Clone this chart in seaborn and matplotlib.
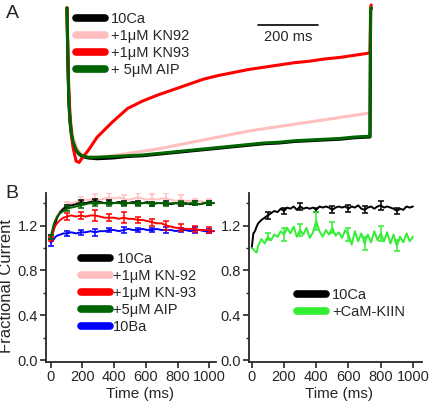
import matplotlib
matplotlib.use("Agg")
import matplotlib.pyplot as plt
from matplotlib import font_manager
import seaborn as sns

# --- Panel A: normalized current traces during a 1 s step ---
trace_t = [0, 3, 6, 10, 15, 20, 30, 40, 50, 70, 100, 150, 200, 250, 300, 350, 400,
           450, 500, 550, 600, 650, 700, 750, 800, 850, 900, 950, 1000, 1002, 1004]
trace_10ca = [0.0, -0.35, -0.62, -0.76, -0.85, -0.90, -0.95, -0.975, -0.99, -1.0, -1.005,
              -1.0, -0.99, -0.985, -0.975, -0.965, -0.955, -0.945, -0.935, -0.925, -0.915,
              -0.905, -0.90, -0.89, -0.885, -0.88, -0.875, -0.865, -0.86, -0.02, 0.0]
trace_kn92 = [0.0, -0.30, -0.55, -0.70, -0.80, -0.86, -0.92, -0.96, -0.98, -0.995, -0.995,
              -0.985, -0.97, -0.955, -0.94, -0.92, -0.90, -0.88, -0.86, -0.84, -0.82,
              -0.805, -0.79, -0.775, -0.76, -0.745, -0.73, -0.715, -0.70, -0.02, 0.0]
trace_kn93 = [0.0, -0.30, -0.55, -0.72, -0.85, -0.93, -1.02, -1.03, -1.0, -0.95, -0.86,
              -0.76, -0.67, -0.62, -0.58, -0.545, -0.51, -0.475, -0.45, -0.43, -0.41,
              -0.395, -0.38, -0.365, -0.355, -0.34, -0.33, -0.315, -0.30, 0.0, 0.02]
trace_aip = [0.0, -0.34, -0.61, -0.75, -0.84, -0.89, -0.945, -0.97, -0.985, -0.995, -0.995,
             -0.99, -0.985, -0.98, -0.97, -0.96, -0.95, -0.94, -0.93, -0.92, -0.91,
             -0.90, -0.895, -0.885, -0.88, -0.875, -0.87, -0.86, -0.855, -0.01, 0.0]

# --- Panel B left: fractional current vs time ---
time_b = [0, 10, 20, 30, 40, 60, 80, 100, 130, 160, 190, 220, 250, 280, 310, 340, 370, 400,
          430, 460, 490, 520, 550, 580, 610, 640, 670, 700, 730, 760, 790, 820, 850, 880,
          910, 940, 970, 1000, 1030]
frac_10ca = [1.10, 1.12, 1.17, 1.22, 1.27, 1.32, 1.35, 1.37, 1.38, 1.39, 1.41, 1.40, 1.41,
             1.42, 1.41, 1.40, 1.41, 1.40, 1.41, 1.40, 1.40, 1.41, 1.40, 1.40, 1.41, 1.39,
             1.40, 1.40, 1.40, 1.39, 1.40, 1.39, 1.40, 1.39, 1.40, 1.39, 1.40, 1.40, 1.40]
frac_kn92 = [1.08, 1.14, 1.20, 1.25, 1.29, 1.33, 1.36, 1.38, 1.40, 1.41, 1.42, 1.43, 1.43,
             1.44, 1.43, 1.44, 1.45, 1.44, 1.45, 1.44, 1.43, 1.44, 1.45, 1.44, 1.43, 1.44,
             1.43, 1.44, 1.44, 1.43, 1.42, 1.43, 1.42, 1.42, 1.41, 1.42, 1.41, 1.41, 1.40]
frac_kn93 = [1.08, 1.12, 1.17, 1.20, 1.22, 1.25, 1.27, 1.28, 1.29, 1.28, 1.29, 1.28, 1.29,
             1.29, 1.28, 1.27, 1.27, 1.27, 1.26, 1.27, 1.26, 1.26, 1.25, 1.25, 1.24, 1.23,
             1.22, 1.22, 1.20, 1.19, 1.18, 1.18, 1.17, 1.17, 1.17, 1.16, 1.16, 1.16, 1.15]
frac_aip = [1.10, 1.16, 1.22, 1.25, 1.28, 1.31, 1.33, 1.35, 1.36, 1.37, 1.38, 1.39, 1.40,
            1.39, 1.40, 1.40, 1.39, 1.40, 1.40, 1.39, 1.40, 1.40, 1.39, 1.40, 1.40, 1.39,
            1.40, 1.40, 1.39, 1.40, 1.40, 1.40, 1.39, 1.40, 1.40, 1.39, 1.40, 1.40, 1.40]
frac_10ba = [1.05, 1.06, 1.08, 1.10, 1.11, 1.12, 1.13, 1.13, 1.14, 1.13, 1.14, 1.14, 1.15,
             1.14, 1.15, 1.15, 1.16, 1.16, 1.15, 1.16, 1.17, 1.16, 1.16, 1.17, 1.16, 1.16,
             1.17, 1.16, 1.16, 1.16, 1.15, 1.16, 1.16, 1.15, 1.16, 1.16, 1.15, 1.15, 1.15]

err_time_b = [0, 100, 190, 280, 370, 460, 550, 640, 730, 820, 910, 1000]
err_10ca = [0.02, 0.015, 0.02, 0.02, 0.015, 0.02, 0.015, 0.02, 0.015, 0.02, 0.015, 0.02]
err_kn92 = [0.02, 0.03, 0.03, 0.04, 0.04, 0.03, 0.04, 0.04, 0.05, 0.04, 0.03, 0.03]
err_kn93 = [0.02, 0.03, 0.03, 0.05, 0.03, 0.05, 0.03, 0.03, 0.04, 0.03, 0.03, 0.03]
err_aip = [0.02, 0.02, 0.02, 0.02, 0.02, 0.02, 0.02, 0.02, 0.02, 0.02, 0.02, 0.02]
err_10ba = [0.03, 0.02, 0.02, 0.03, 0.02, 0.03, 0.02, 0.02, 0.03, 0.02, 0.03, 0.02]

# --- Panel B right: CaM-KIIN ---
time_c = [0, 10, 20, 30, 40, 60, 80, 100, 120, 140, 160, 180, 200, 220, 240, 260, 280, 300,
          320, 340, 360, 380, 400, 420, 440, 460, 480, 500, 520, 540, 560, 580, 600, 620,
          640, 660, 680, 700, 720, 740, 760, 780, 800, 820, 840, 860, 880, 900, 920, 940,
          960, 980, 1000]
frac_c_10ca = [1.00, 1.13, 1.15, 1.19, 1.22, 1.25, 1.27, 1.29, 1.31, 1.33, 1.32, 1.35, 1.33,
               1.36, 1.35, 1.37, 1.34, 1.37, 1.35, 1.36, 1.35, 1.36, 1.34, 1.37, 1.36, 1.37,
               1.36, 1.34, 1.36, 1.37, 1.36, 1.37, 1.35, 1.37, 1.36, 1.38, 1.35, 1.34, 1.36,
               1.37, 1.35, 1.37, 1.38, 1.36, 1.37, 1.36, 1.35, 1.33, 1.35, 1.34, 1.37, 1.36,
               1.37]
frac_c_kiin = [1.00, 0.99, 0.97, 0.96, 1.02, 1.08, 1.04, 1.10, 1.07, 1.12, 1.10, 1.15, 1.12,
               1.18, 1.13, 1.19, 1.10, 1.16, 1.12, 1.18, 1.09, 1.14, 1.24, 1.15, 1.10, 1.16,
               1.12, 1.18, 1.11, 1.14, 1.09, 1.16, 1.12, 1.03, 1.15, 1.06, 1.13, 1.04, 1.12,
               1.05, 1.15, 1.07, 1.13, 1.06, 1.14, 1.04, 1.12, 1.02, 1.10, 1.05, 1.13, 1.06,
               1.10]
err_time_c = [100, 200, 300, 400, 500, 600, 700, 800, 900]
err_c_10ca = [0.03, 0.03, 0.03, 0.02, 0.03, 0.03, 0.03, 0.04, 0.03]
err_c_kiin = [0.03, 0.06, 0.05, 0.08, 0.05, 0.06, 0.06, 0.07, 0.05]

BLACK, PINK, RED, DKGREEN, BLUE, LIME = "#000000", "#FFBFBF", "#FF0000", "#006400", "#0000FF", "#33EE33"

# drop the narrow variant so "Liberation Sans" resolves to the regular width
font_manager.fontManager.ttflist = [f for f in font_manager.fontManager.ttflist
                                    if "Narrow" not in f.fname]
font_manager.fontManager._findfont_cached.cache_clear()

sns.set_theme(style="ticks")
plt.rcParams["font.family"] = ["Liberation Sans", "DejaVu Sans"]
plt.rcParams["axes.linewidth"] = 1.3

fig = plt.figure(figsize=(4.32, 4.04), dpi=100)

# ----- panel A -----
ax_a = fig.add_axes([60 / 432, 1 - 170 / 404, 320 / 432, 170 / 404])
for y, c, lab in [(trace_kn92, PINK, "+1μM KN92"), (trace_10ca, BLACK, "10Ca"),
                  (trace_kn93, RED, "+1μM KN93"), (trace_aip, DKGREEN, "+ 5μM AIP")]:
    sns.lineplot(x=trace_t, y=y, ax=ax_a, color=c, linewidth=2.2, label=lab)
ax_a.set_xlim(-23, 1033)
ax_a.set_ylim(-1.08, 0.053)
ax_a.axis("off")
ax_a.plot([630, 830], [-0.113, -0.113], color="black", lw=1.2)
ax_a.text(730, -0.145, "200 ms", ha="center", va="top", fontsize=10.5)

order = ["10Ca", "+1μM KN92", "+1μM KN93", "+ 5μM AIP"]
h, l = ax_a.get_legend_handles_labels()
hd = dict(zip(l, h))
leg = ax_a.legend([hd[k] for k in order], order, loc="upper left",
                  bbox_to_anchor=(76 / 432, 1 - 12 / 404), bbox_transform=fig.transFigure,
                  frameon=False, fontsize=10.5, handlelength=2.0, handletextpad=0.4,
                  labelspacing=0.2, borderpad=0, borderaxespad=0)
for ln in leg.get_lines():
    ln.set_linewidth(5.5)

fig.text(12 / 432, 1 - 14 / 404, "A", fontsize=14, ha="center", va="center")
fig.text(12 / 432, 1 - 193 / 404, "B", fontsize=14, ha="center", va="center")


def style_b(ax, xlim):
    ax.set_xlim(*xlim)
    ax.set_ylim(-0.015, 1.49)
    ax.set_yticks([0.0, 0.4, 0.8, 1.2])
    ax.set_yticks([0.2, 0.6, 1.0, 1.4], minor=True)
    ax.set_yticklabels(["0.0", "0.4", "0.8", "1.2"])
    ax.set_xticks([0, 200, 400, 600, 800, 1000])
    ax.tick_params(axis="both", which="major", labelsize=10.5, length=4, width=1.2, pad=2)
    ax.tick_params(axis="y", which="minor", length=2.5, width=1.0)
    sns.despine(ax=ax)


# ----- panel B left -----
ax_b = fig.add_axes([46 / 432, 1 - 362 / 404, 170 / 432, 169 / 404])
idx_b = [time_b.index(t) for t in err_time_b]
series_b = [(frac_kn92, err_kn92, PINK, "+1μM KN-92"), (frac_10ca, err_10ca, BLACK, " 10Ca"),
            (frac_10ba, err_10ba, BLUE, "10Ba"), (frac_kn93, err_kn93, RED, "+1μM KN-93"),
            (frac_aip, err_aip, DKGREEN, "+5μM AIP")]
for y, e, c, lab in series_b:
    sns.lineplot(x=time_b, y=y, ax=ax_b, color=c, linewidth=1.4, label=lab)
    ax_b.errorbar(err_time_b, [y[i] for i in idx_b], yerr=e, fmt="none", ecolor=c,
                  elinewidth=1.1, capsize=2.5, capthick=1.1)
style_b(ax_b, (-30, 1043))
ax_b.set_xlabel("Time (ms)", fontsize=11)
ax_b.set_ylabel("Fractional Current", fontsize=12)
ax_b.xaxis.set_label_coords(0.553, -0.15)
ax_b.yaxis.set_label_coords(-0.19, 0.45)
order_b = [" 10Ca", "+1μM KN-92", "+1μM KN-93", "+5μM AIP", "10Ba"]
h, l = ax_b.get_legend_handles_labels()
hd = dict(zip(l, h))
leg = ax_b.legend([hd[k] for k in order_b], order_b, loc="upper left",
                  bbox_to_anchor=(81 / 432, 1 - 252 / 404), bbox_transform=fig.transFigure,
                  frameon=False, fontsize=10.5, handlelength=2.0, handletextpad=0.2,
                  labelspacing=0.2, borderpad=0, borderaxespad=0)
for ln in leg.get_lines():
    ln.set_linewidth(5.5)

# ----- panel B right -----
ax_c = fig.add_axes([249 / 432, 1 - 362 / 404, 173 / 432, 169 / 404])
idx_c = [time_c.index(t) for t in err_time_c]
for y, e, c, lab in [(frac_c_10ca, err_c_10ca, BLACK, "10Ca"),
                     (frac_c_kiin, err_c_kiin, LIME, "+CaM-KIIN")]:
    sns.lineplot(x=time_c, y=y, ax=ax_c, color=c, linewidth=1.4, label=lab)
    ax_c.errorbar(err_time_c, [y[i] for i in idx_c], yerr=e, fmt="none", ecolor=c,
                  elinewidth=1.1, capsize=2.5, capthick=1.1)
style_b(ax_c, (-17, 1056))
ax_c.set_xlabel("Time (ms)", fontsize=11)
ax_c.set_ylabel("")
ax_c.xaxis.set_label_coords(0.52, -0.15)
leg = ax_c.legend(loc="upper left", bbox_to_anchor=(297 / 432, 1 - 288 / 404),
                  bbox_transform=fig.transFigure, frameon=False, fontsize=10.5,
                  handlelength=2.0, handletextpad=0.4, labelspacing=0.2,
                  borderpad=0, borderaxespad=0)
for ln in leg.get_lines():
    ln.set_linewidth(5.5)

fig.savefig("out.png", dpi=100)
